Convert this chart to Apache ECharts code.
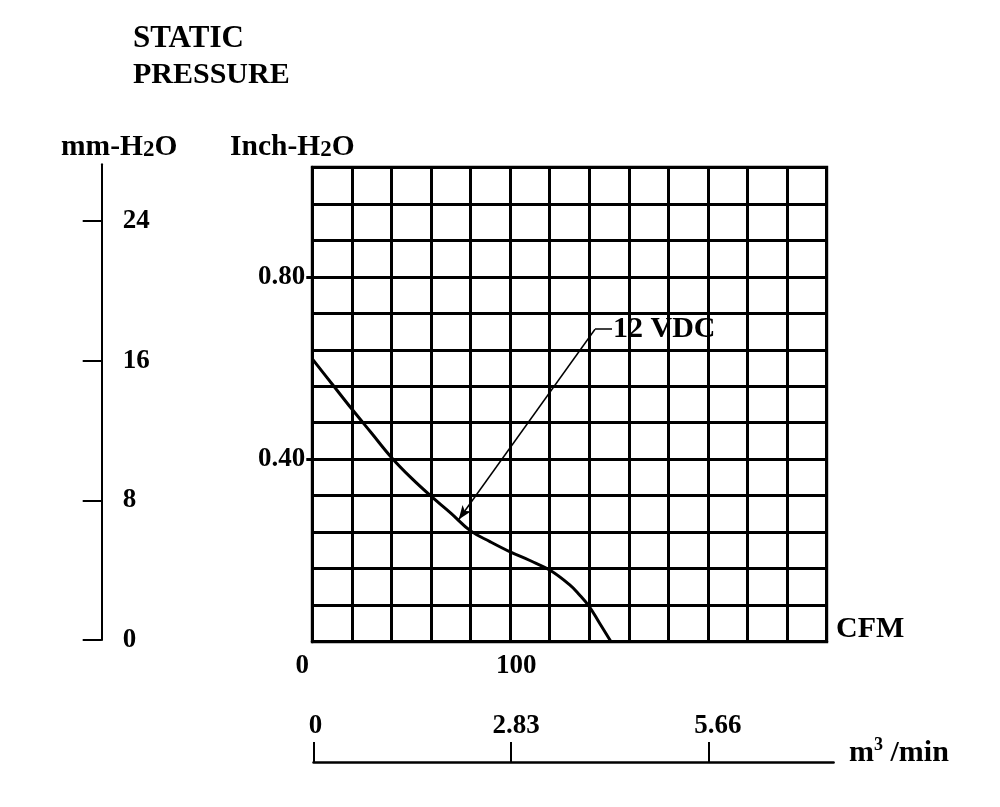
<!DOCTYPE html>
<html>
<head>
<meta charset="utf-8">
<script src="https://cdn.jsdelivr.net/npm/echarts@6/dist/echarts.min.js"></script>
<style>
html,body{margin:0;padding:0;background:#fff;}
#chart{width:1000px;height:807px;}
</style>
</head>
<body>
<div id="chart"></div>
<script>
// ---- data ----
const cfm = [0, 10, 20, 30, 40, 50, 60, 70, 80, 90, 100, 110, 120, 130, 135, 140, 145, 151];
const inchH2O = [0.620, 0.565, 0.510, 0.457, 0.404, 0.359, 0.319, 0.282, 0.243, 0.219, 0.197, 0.178, 0.157, 0.125, 0.103, 0.077, 0.042, 0.0];
const cfmLabels = [0, 100];
const inchLabels = [0.40, 0.80];
const mmTicks = [0, 8, 16, 24];
const m3Ticks = [0, 2.83, 5.66];
const seriesName = '12 VDC';
const arrowFrom = [142.9, 0.685];
const arrowTo = [74, 0.268];
const labelLineEnd = [151.5, 0.685];

const FONT = '"Liberation Serif","Times New Roman",serif';
const base = {fontFamily: FONT, fontWeight: 'bold', fontSize: 27, color: '#000'};
const big = function (s) { return {fontFamily: FONT, fontWeight: 'bold', fontSize: s, color: '#000'}; };

const chart = echarts.init(document.getElementById('chart'), null, {renderer: 'canvas'});
chart.setOption({
  animation: false,
  backgroundColor: '#fff',
  grid: [
    {left: 312.3, top: 167.3, width: 514.4, height: 474.4, show: true, borderColor: '#000', borderWidth: 3, outerBoundsMode: 'none'},
    {left: 101.7, top: 164.3, width: 10, height: 475.7, outerBoundsMode: 'none'},
    {left: 313.5, top: 700, width: 520.1, height: 62, outerBoundsMode: 'none'}
  ],
  xAxis: [
    {
      gridIndex: 0, type: 'value', min: 0, max: 260, interval: 20,
      axisLine: {show: true, lineStyle: {color: '#000', width: 3}},
      axisTick: {show: false},
      splitLine: {show: true, lineStyle: {color: '#000', width: 3}},
      axisLabel: {
        margin: 11,
        formatter: function (v) {
          if (v === cfmLabels[0]) return '{l|' + v + '}';
          if (v === cfmLabels[1]) return '{r|' + v + '}';
          return '';
        },
        rich: {
          l: Object.assign({}, base, {padding: [0, 20, 0, 0]}),
          r: Object.assign({}, base, {padding: [0, 0, 0, 12]})
        }
      }
    },
    {gridIndex: 1, type: 'value', show: false, min: 0, max: 1},
    {
      gridIndex: 2, type: 'value', min: 0, max: 7.445, position: 'bottom',
      axisLine: {show: true, lineStyle: {color: '#000', width: 2.5}},
      axisTick: {show: true, inside: true, length: 20, customValues: m3Ticks, lineStyle: {color: '#000', width: 2}},
      splitLine: {show: false},
      axisLabel: {
        inside: true, margin: 22, customValues: m3Ticks,
        formatter: function (v) {
          if (v === m3Ticks[0]) return '{a|0}';
          if (v === m3Ticks[1]) return '{b|' + v.toFixed(2) + '}';
          return '{c|' + v.toFixed(2) + '}';
        },
        rich: {
          a: Object.assign({}, base, {padding: [0, 0, 0, 4]}),
          b: Object.assign({}, base, {padding: [0, 0, 0, 10]}),
          c: Object.assign({}, base, {padding: [0, 0, 0, 18]})
        }
      }
    }
  ],
  yAxis: [
    {
      gridIndex: 0, type: 'value', min: 0, max: 1.04, interval: 0.08,
      axisLine: {show: true, lineStyle: {color: '#000', width: 3}},
      axisTick: {show: false},
      splitLine: {show: true, lineStyle: {color: '#000', width: 3}},
      axisLabel: {show: false}
    },
    {
      gridIndex: 1, type: 'value', min: 0, max: 27.25, position: 'left',
      axisLine: {show: true, lineStyle: {color: '#000', width: 2}},
      axisTick: {show: true, inside: false, length: 19, customValues: mmTicks, lineStyle: {color: '#000', width: 2}},
      splitLine: {show: false},
      axisLabel: Object.assign({}, base, {inside: true, margin: 21, customValues: mmTicks})
    },
    {gridIndex: 2, type: 'value', show: false, min: 0, max: 1},
    {
      gridIndex: 0, type: 'value', min: 0, max: 1.04, position: 'left',
      axisLine: {show: false},
      axisTick: {show: true, length: 6, customValues: inchLabels, lineStyle: {color: '#000', width: 3}},
      splitLine: {show: false},
      axisLabel: Object.assign({}, base, {
        margin: 7, customValues: inchLabels,
        formatter: function (v) { return v.toFixed(2); }
      })
    }
  ],
  series: [{
    name: seriesName,
    type: 'line',
    xAxisIndex: 0, yAxisIndex: 0,
    data: cfm.map(function (c, i) { return [c, inchH2O[i]]; }),
    smooth: 0.4,
    showSymbol: false,
    symbol: 'none',
    lineStyle: {color: '#000', width: 3},
    markLine: {
      silent: true,
      symbol: ['none', 'none'],
      lineStyle: {color: '#000', width: 1.5, type: 'solid'},
      data: [
        [
          {coord: arrowFrom, symbol: 'none'},
          {coord: arrowTo, symbol: 'arrow', symbolSize: [8, 14], label: {show: false}}
        ],
        [
          {coord: arrowFrom, symbol: 'none'},
          {coord: labelLineEnd, symbol: 'none',
           label: Object.assign(big(30), {show: true, position: 'end', distance: 1, formatter: seriesName})}
        ]
      ],
      label: {show: false}
    }
  }],
  graphic: [
    {type: 'text', style: {text: 'STATIC', x: 133, y: 39, textVerticalAlign: 'middle', font: 'bold 31px ' + FONT, fill: '#000'}},
    {type: 'text', style: {text: 'PRESSURE', x: 133, y: 75, textVerticalAlign: 'middle', font: 'bold 30px ' + FONT, fill: '#000'}},
    {type: 'text', style: {text: '{a|mm-H}{s|2}{a|O}', x: 61, y: 147, textVerticalAlign: 'middle',
      rich: {a: Object.assign(big(29.5), {verticalAlign: 'bottom'}), s: Object.assign(big(23), {verticalAlign: 'bottom'})}}},
    {type: 'text', style: {text: '{a|Inch-H}{s|2}{a|O}', x: 230, y: 147, textVerticalAlign: 'middle',
      rich: {a: Object.assign(big(29.5), {verticalAlign: 'bottom'}), s: Object.assign(big(23), {verticalAlign: 'bottom'})}}},
    {type: 'text', style: {text: 'CFM', x: 836, y: 629, textVerticalAlign: 'middle', font: 'bold 30px ' + FONT, fill: '#000'}},
    {type: 'text', style: {text: '{a|m}{s|3}{a| /min}', x: 849, y: 752, textVerticalAlign: 'middle',
      rich: {a: Object.assign(big(30), {lineHeight: 32, verticalAlign: 'bottom'}),
             s: Object.assign(big(18), {verticalAlign: 'top'})}}}
  ]
});
</script>
</body>
</html>
